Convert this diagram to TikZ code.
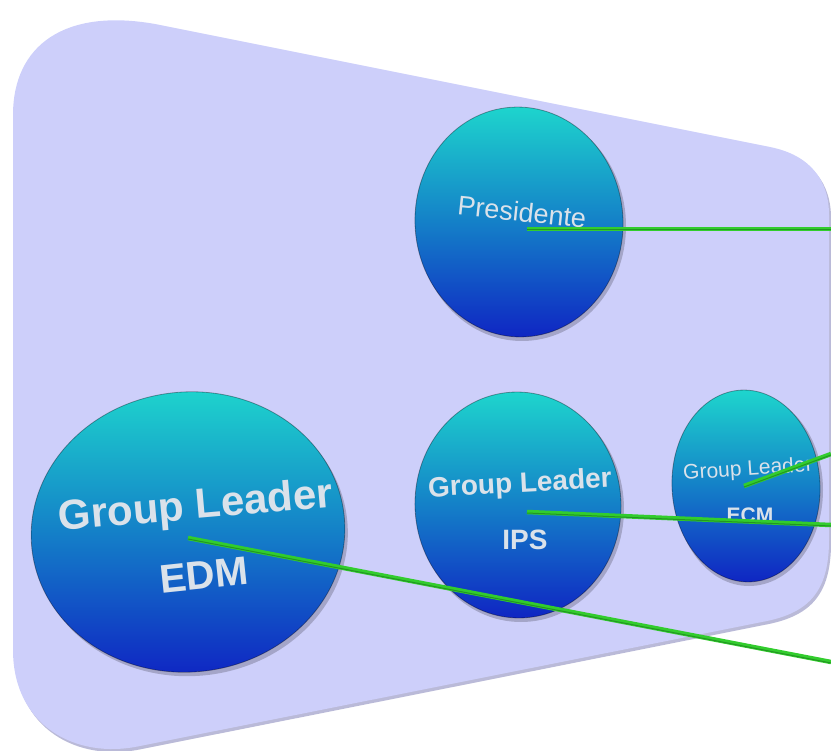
\documentclass[tikz,border=0pt]{standalone}
\usepackage{fontspec}
\setmainfont{Liberation Sans}
\usetikzlibrary{shapes.geometric}
\definecolor{bgfill}{RGB}{205,207,250}
\definecolor{bgshadow}{RGB}{140,140,190}
\definecolor{topc}{RGB}{30,215,205}
\definecolor{midc}{RGB}{20,128,200}
\definecolor{botc}{RGB}{15,35,195}
\definecolor{txtc}{RGB}{218,226,234}
\definecolor{lineg}{RGB}{50,205,45}
\definecolor{lined}{RGB}{35,150,35}
\begin{document}
\begin{tikzpicture}[x=1pt,y=-1pt,
  bubble/.style={ellipse, draw=black, draw opacity=0.35, line width=0.8pt, top color=topc, bottom color=botc, middle color=midc, inner sep=0pt},
  bshadow/.style={ellipse, fill=black, opacity=0.2, inner sep=0pt},
  lbl/.style={text=txtc, inner sep=0pt},
  link/.style={line width=4.5pt, lineg},
  linkc/.style={line width=1pt, lined}]
\useasboundingbox (0,0) rectangle (831,751);
% background panel
\begin{scope}[shift={(2,3)}]
\fill[bgshadow, opacity=0.6] (13,115) .. controls (13,45) and (65,8) .. (155,24) -- (770,147) .. controls (810,155) and (829,180) .. (829,215) -- (829,540) .. controls (829,590) and (810,612) .. (767,621) -- (140,746) .. controls (75,760) and (13,725) .. (13,650) -- cycle;
\end{scope}
\fill[bgfill] (13,115) .. controls (13,45) and (65,8) .. (155,24) -- (770,147) .. controls (810,155) and (829,180) .. (829,215) -- (829,540) .. controls (829,590) and (810,612) .. (767,621) -- (140,746) .. controls (75,760) and (13,725) .. (13,650) -- cycle;
% shadows of bubbles
\node[bshadow, minimum width=208pt, minimum height=230pt] (spres) at (522,226) {};
\node[bshadow, minimum width=314pt, minimum height=280pt, rotate=6] (sedm) at (191,536) {};
\node[bshadow, minimum width=206pt, minimum height=226pt] (sips) at (521,509) {};
\node[bshadow, minimum width=148pt, minimum height=192pt] (secm) at (749,490) {};
% bubbles
\node[bubble, minimum width=208pt, minimum height=230pt, rotate=4] (pres) at (519,222) {};
\node[bubble, minimum width=314pt, minimum height=280pt, rotate=6] (edm) at (188,532) {};
\node[bubble, minimum width=206pt, minimum height=226pt, rotate=3] (ips) at (518,505) {};
\node[bubble, minimum width=148pt, minimum height=192pt, rotate=3] (ecm) at (746,486) {};
% labels
\node[lbl, font=\fontsize{27}{31}\selectfont, rotate=-6] (tpres) at (522,212) {Presidente};
\node[lbl, font=\fontsize{42}{48}\bfseries\selectfont, rotate=5] (tedm1) at (196,508) {Group Leader};
\node[lbl, font=\fontsize{40}{46}\bfseries\selectfont, rotate=6] (tedm2) at (204,575) {EDM};
\node[lbl, font=\fontsize{28}{32}\bfseries\selectfont, rotate=3] (tips1) at (520,485) {Group Leader};
\node[lbl, font=\fontsize{28}{32}\bfseries\selectfont] (tips2) at (525,540) {IPS};
\node[lbl, font=\fontsize{21}{25}\selectfont, rotate=4] (tecm1) at (748,470) {Group Leader};
\begin{scope}
\clip (700,495) rectangle (800,522);
\node[lbl, font=\fontsize{21}{25}\bfseries\selectfont] (tecm2) at (750,515) {ECM};
\end{scope}
% connector anchors
\coordinate (cp) at (527,229);
\coordinate (ep) at (831,229);
\coordinate (cecm) at (744,486);
\coordinate (eecm) at (831,454);
\coordinate (cips) at (527,512);
\coordinate (eips) at (831,525);
\coordinate (cedm) at (188,538);
\coordinate (eedm) at (831,662);
% connectors
\draw[link] (cp) -- (ep);
\draw[link] (cecm) -- (eecm);
\draw[link] (cips) -- (eips);
\draw[link] (cedm) -- (eedm);
\draw[linkc] ([yshift=-1pt]cp) -- ([yshift=-1pt]ep);
\draw[linkc] ([yshift=-1pt]cecm) -- ([yshift=-1pt]eecm);
\draw[linkc] ([yshift=-1pt]cips) -- ([yshift=-1pt]eips);
\draw[linkc] ([yshift=-1pt]cedm) -- ([yshift=-1pt]eedm);
\end{tikzpicture}
\end{document}
